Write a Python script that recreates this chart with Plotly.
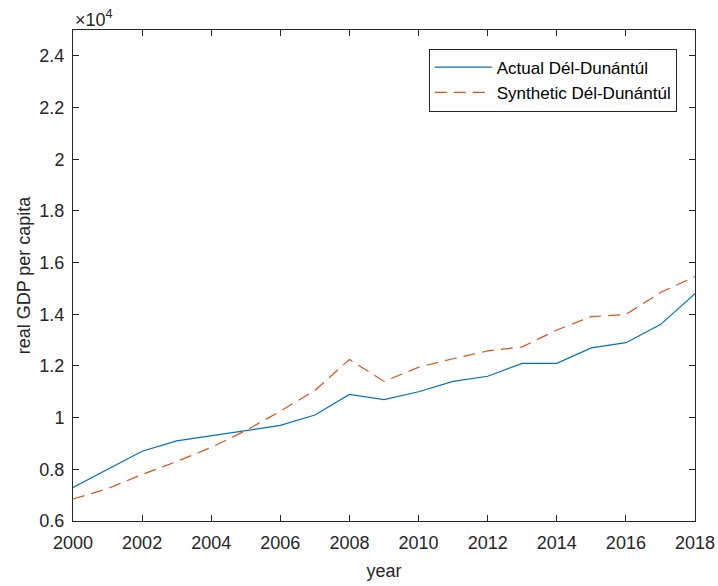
import plotly.graph_objects as go

years = list(range(2000, 2019))
actual = [7300, 8000, 8700, 9100, 9300, 9500, 9700, 10100, 10900, 10700,
          11000, 11400, 11600, 12100, 12100, 12700, 12900, 13600, 14800]
synthetic = [6850, 7250, 7800, 8300, 8850, 9500, 10250, 11050, 12250, 11400,
             11950, 12280, 12580, 12740, 13390, 13910, 13990, 14840, 15460]

y_ticks = [6000, 8000, 10000, 12000, 14000, 16000, 18000, 20000, 22000, 24000]
y_tick_text = ["0.6", "0.8", "1", "1.2", "1.4", "1.6", "1.8", "2", "2.2", "2.4"]
x_ticks = list(range(2000, 2019, 2))

font_family = "Liberation Sans, Arial, sans-serif"
axis_color = "#262626"

fig = go.Figure()
fig.add_trace(go.Scatter(
    x=years, y=actual, mode="lines", name="Actual Dél-Dunántúl",
    line=dict(color="#0072BD", width=1.2),
))
fig.add_trace(go.Scatter(
    x=years, y=synthetic, mode="lines", name="Synthetic Dél-Dunántúl",
    line=dict(color="#D95319", width=1.2, dash="12px,7px"),
))

axis_common = dict(
    showline=True, linecolor=axis_color, linewidth=1, mirror="ticks",
    ticks="inside", ticklen=6, tickcolor=axis_color, tickwidth=1,
    showgrid=False, zeroline=False, automargin=False,
    tickfont=dict(family=font_family, size=18, color=axis_color),
)

fig.update_layout(
    width=718, height=586,
    margin=dict(l=73, r=23, t=30, b=65),
    paper_bgcolor="white", plot_bgcolor="white",
    font=dict(family=font_family, color=axis_color),
    xaxis=dict(
        range=[2000, 2018], tickvals=x_ticks, ticklabelstandoff=5,
        title=dict(text="year", font=dict(family=font_family, size=18, color=axis_color), standoff=12),
        **axis_common,
    ),
    yaxis=dict(
        range=[6000, 25000], tickvals=y_ticks, ticktext=y_tick_text,
        ticklabelstandoff=4,
        title=dict(text="real GDP per capita", font=dict(family=font_family, size=18, color=axis_color), standoff=4),
        **axis_common,
    ),
    legend=dict(
        x=0.572, y=0.962, xanchor="left", yanchor="top",
        bgcolor="white", bordercolor=axis_color, borderwidth=1,
        font=dict(family=font_family, size=17, color="black"),
        itemwidth=57, tracegroupgap=0,
    ),
    showlegend=True,
)

fig.add_annotation(
    text="×10<sup>4</sup>", xref="paper", yref="paper", x=0, y=1,
    xanchor="left", yanchor="bottom", showarrow=False, yshift=-2,
    font=dict(family=font_family, size=18, color=axis_color),
)

fig.write_html("out.html")
